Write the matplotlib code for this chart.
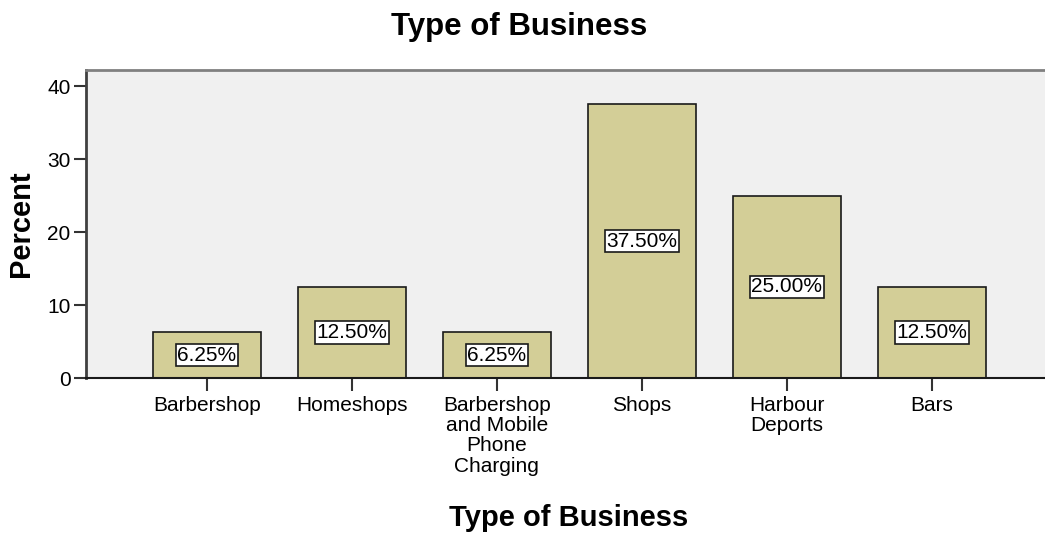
import numpy as np
import matplotlib.pyplot as plt

plt.rcParams['font.family'] = ['Liberation Sans', 'DejaVu Sans']

# Type of business percentages
categories = ['Barbershop', 'Homeshops', 'Barbershop\nand Mobile\nPhone\nCharging',
              'Shops', 'Harbour\nDeports', 'Bars']
percent = [6.25, 12.50, 6.25, 37.50, 25.00, 12.50]

fig = plt.figure(figsize=(10.45, 5.36), dpi=100)
ax = fig.add_axes([86 / 1045, 1 - 378 / 536, 959 / 1045, 308 / 536])
ax.set_facecolor('#f0f0f0')

x = np.arange(len(categories))
ax.bar(x, percent, width=0.75, color='#d3ce97', edgecolor='#1a1a1a', linewidth=1.2, zorder=2)

for xi, p in zip(x, percent):
    ax.text(xi, p / 2, '%.2f%%' % p, ha='center', va='center', fontsize=15, zorder=3,
            bbox=dict(boxstyle='square,pad=0.08', facecolor='white', edgecolor='#1a1a1a', linewidth=1.2))

ax.set_xlim(-0.834, 5.78)
ax.set_ylim(0, 42.2)
ax.set_yticks([0, 10, 20, 30, 40])
ax.set_xticks(x)
ax.set_xticklabels(categories, fontsize=15, linespacing=1.08)
ax.tick_params(axis='y', labelsize=15, length=9, width=1.5, pad=2, color='#333333')
ax.tick_params(axis='x', length=9, width=1.5, pad=4, color='#333333')

ax.spines['right'].set_visible(False)
ax.spines['top'].set_color('#808080')
ax.spines['top'].set_linewidth(2)
ax.spines['left'].set_color('#404040')
ax.spines['left'].set_linewidth(2)
ax.spines['bottom'].set_color('#1a1a1a')
ax.spines['bottom'].set_linewidth(1.5)

ax.set_ylabel('Percent', fontsize=21, fontweight='bold')
ax.yaxis.set_label_coords(-0.053, 0.5)
fig.text(519 / 1045, 1 - 27 / 536, 'Type of Business', ha='center', va='center',
         fontsize=22.5, fontweight='bold')
fig.text(569 / 1045, 1 - 518 / 536, 'Type of Business', ha='center', va='center',
         fontsize=21, fontweight='bold')

fig.savefig('out.png', dpi=100)
